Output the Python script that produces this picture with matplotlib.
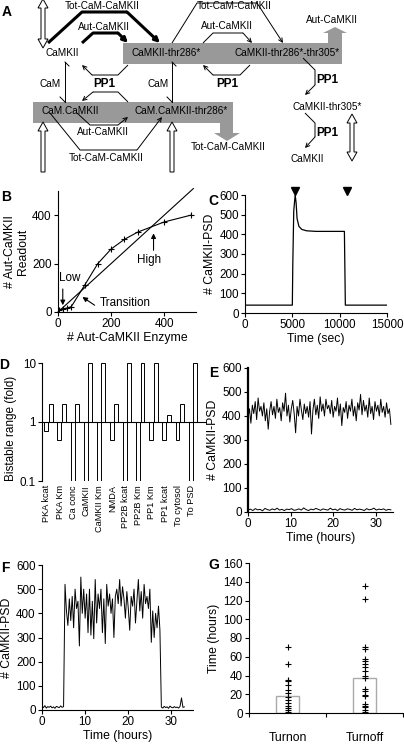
import numpy as np
import matplotlib
matplotlib.use("Agg")
import matplotlib.pyplot as plt
from matplotlib.patches import Polygon, Rectangle

plt.rcParams['font.family'] = ['Liberation Sans', 'DejaVu Sans']
plt.rcParams['font.size'] = 8
plt.rcParams['axes.linewidth'] = 0.8

W, H = 404, 745
LAB = 8.8   # axis label size
TICK = 8.4  # tick label size

# --- data ---
# B: readout vs enzyme
b_enzyme = [5, 20, 35, 50, 100, 150, 200, 250, 300, 400, 500]
b_readout = [10, 13, 17, 22, 110, 200, 260, 300, 330, 372, 400]
b_diag = [0, 510]

# C: CaMKII-PSD vs time (sec)
c_time = [0, 5000, 5050, 5150, 5300, 5400, 5500, 5700, 6000, 6500, 7500, 10500, 10600, 15000]
c_psd = [40, 40, 250, 520, 600, 560, 480, 440, 425, 418, 415, 415, 40, 40]
c_stim = [5280, 10780]

# D: bistable range
d_params = ["PKA kcat", "PKA Km", "Ca conc", "CaMKII", "CaMKII Km", "NMDA",
            "PP2B kcat", "PP2B Km", "PP1 Km", "PP1 kcat", "To cytosol", "To PSD"]
d_low = [0.7, 0.5, 0.1, 0.1, 0.1, 0.5, 0.1, 0.1, 0.5, 0.5, 0.5, 0.1]
d_high = [2, 2, 2, 10, 10, 2, 10, 10, 10, 1.3, 2, 10]

# E: two stable states over 33.5 h
e_high = [395, 430, 370, 445, 410, 460, 385, 475, 420, 440,
          400, 455, 380, 430, 345, 420, 460, 405, 440, 390,
          470, 415, 435, 380, 455, 420, 495, 400, 445, 375,
          430, 465, 410, 330, 440, 400, 470, 425, 385, 450,
          410, 440, 395, 460, 325, 425, 470, 405, 445, 390,
          480, 420, 450, 400, 470, 430, 445, 410, 465, 395,
          440, 420, 475, 400, 450, 360, 435, 415, 460, 390,
          445, 420, 470, 400, 440, 380, 455, 425, 490, 405,
          465, 420, 445, 395, 475, 410, 440, 385, 460, 420,
          445, 400, 470, 415, 440, 395, 455, 410, 430, 365]
e_low = [8, 12, 6, 14, 9, 11, 5, 15, 10, 7, 13, 9, 16, 8, 11, 6, 12, 10, 14, 7,
         9, 13, 8, 17, 10, 6, 12, 9, 15, 11, 7, 13, 10, 8, 16, 9, 12, 6, 14, 10,
         8, 13, 11, 7, 15, 9, 12, 10, 6, 14, 9, 11, 16, 8, 12, 10, 13, 7, 11, 9]
e_tmax = 33.5

# F: spontaneous turn on / turn off (33 h)
f_low0 = [15, 10, 18, 8, 14, 11, 16, 9, 13, 7, 15, 12, 10, 17, 11, 14]
f_high = [520, 410, 350, 460, 370, 470, 340, 500, 420, 450, 265, 550, 400, 500,
          380, 480, 320, 500, 310, 450, 295, 540, 360, 480, 420, 500, 320, 460,
          275, 520, 430, 480, 400, 460, 300, 470, 500, 440, 540, 430, 510, 460,
          380, 490, 420, 330, 470, 430, 500, 360, 450, 540, 410, 490, 380, 520,
          440, 470, 420, 500, 280, 410, 300, 400, 340, 430, 330]
f_low1 = [12, 8, 15, 10, 13, 7, 16, 11, 9, 14, 10, 12, 8, 15, 50, 11, 13]
f_tmax = 33.0

# G: transition times
g_cats = ["Turnon", "Turnoff"]
g_means = [18, 37]
g_turnon = [70, 52, 35, 34, 30, 25, 21, 17, 14, 11, 7, 5, 3, 1]
g_turnoff = [136, 122, 70, 68, 58, 55, 52, 49, 45, 40, 37, 26, 23, 19, 18, 10, 8, 6, 3, 1]

fig = plt.figure(figsize=(W / 100, H / 100), dpi=100)


def px_axes(left, top, right, bottom):
    return fig.add_axes([left / W, 1 - bottom / H, (right - left) / W, (bottom - top) / H])


def panel_letter(x, y, s):
    fig.text(x / W, 1 - y / H, s, fontsize=10, fontweight='bold', ha='center', va='center')


def style(ax):
    for side in ('top', 'right'):
        ax.spines[side].set_visible(False)
    ax.tick_params(direction='out', length=3, width=0.8, labelsize=TICK, pad=1.5)


# ================= A: reaction scheme =================
axA = px_axes(0, 0, 404, 170)
axA.set_xlim(0, 404)
axA.set_ylim(170, 0)
axA.axis('off')
grey = '#999999'

axA.add_patch(Rectangle((123, 43), 219, 21, color=grey, lw=0))
axA.add_patch(Rectangle((33, 102), 200, 21, color=grey, lw=0))
axA.add_patch(Polygon([(328, 43), (328, 33), (323, 33), (335, 27), (347, 33), (342, 33), (342, 43)],
                      closed=True, color=grey, lw=0))
axA.add_patch(Polygon([(220, 123), (220, 133), (214, 133), (227, 141), (240, 133), (233, 133), (233, 123)],
                      closed=True, color=grey, lw=0))


def hollow(x, ytip, ytail, w=4, hw=10, hl=9, double=False):
    if double:
        pts = [(x, ytip), (x + hw / 2, ytip + hl), (x + w / 2, ytip + hl), (x + w / 2, ytail - hl),
               (x + hw / 2, ytail - hl), (x, ytail), (x - hw / 2, ytail - hl), (x - w / 2, ytail - hl),
               (x - w / 2, ytip + hl), (x - hw / 2, ytip + hl)]
    else:
        pts = [(x - w / 2, ytail), (x - w / 2, ytip + hl), (x - hw / 2, ytip + hl), (x, ytip),
               (x + hw / 2, ytip + hl), (x + w / 2, ytip + hl), (x + w / 2, ytail)]
    axA.add_patch(Polygon(pts, closed=True, fc='white', ec='black', lw=0.7, clip_on=False))


hollow(43, -1, 48, double=True)
hollow(352, 114, 161, double=True)
hollow(43, 122, 172)
hollow(172, 122, 172)


def path_arrow(pts, lw=0.7, head='->', ms=7):
    xs = [p[0] for p in pts]
    ys = [p[1] for p in pts]
    axA.plot(xs[:-1], ys[:-1], color='black', lw=lw, solid_capstyle='butt')
    axA.annotate('', xy=pts[-1], xytext=pts[-2],
                 arrowprops=dict(arrowstyle=head, lw=lw, color='black', shrinkA=0, shrinkB=0,
                                 mutation_scale=ms))


# thick arrows
path_arrow([(48, 43), (82, 12), (127, 12), (160, 43)], lw=2.2, head='-|>', ms=7)
path_arrow([(82, 43), (93, 33), (118, 33), (128, 43)], lw=2.2, head='-|>', ms=7)
# thin arrows
path_arrow([(172, 43), (197, 3), (257, 3), (283, 43)])
path_arrow([(203, 43), (213, 33), (243, 33), (252, 43)])
path_arrow([(128, 65), (118, 75), (92, 75), (82, 65)])
path_arrow([(250, 65), (240, 75), (213, 75), (203, 65)])
path_arrow([(303, 58), (315, 70), (315, 85), (305, 95)])
path_arrow([(305, 113), (315, 123), (315, 137), (305, 148)])
path_arrow([(128, 102), (118, 92), (93, 92), (82, 101)])
path_arrow([(77, 113), (90, 125), (118, 125), (128, 117)])
path_arrow([(50, 113), (80, 150), (137, 150), (162, 117)])
# CaM binding steps
for xv in (65, 172):
    axA.plot([xv, xv], [62, 102], color='black', lw=0.7)
    axA.plot([xv, xv + 4], [62, 66], color='black', lw=0.7)
    axA.plot([xv - 5, xv], [97, 102], color='black', lw=0.7)

labels_A = [
    ("Tot-CaM-CaMKII", 102, 6), ("Aut-CaMKII", 104, 27), ("CaMKII", 62, 53),
    ("CaMKII-thr286*", 166, 53), ("CaMKII-thr286*-thr305*", 287, 53),
    ("Tot-CaM-CaMKII", 234, 6), ("Aut-CaMKII", 227, 26), ("Aut-CaMKII", 332, 20),
    ("CaM", 50, 84), ("CaM", 158, 84), ("CaMKII-thr305*", 327, 107),
    ("CaMKII", 307, 159), ("CaM.CaMKII", 70, 111), ("CaM.CaMKII-thr286*", 181, 111),
    ("Aut-CaMKII", 103, 132), ("Tot-CaM-CaMKII", 106, 158), ("Tot-CaM-CaMKII", 228, 147),
]
for s, x, y in labels_A:
    axA.text(x, y, s, fontsize=7.2, ha='center', va='center', zorder=5)
for x, y in [(104, 84), (227, 84), (327, 80), (327, 133)]:
    axA.text(x, y, "PP1", fontsize=8.5, fontweight='bold', ha='center', va='center')
panel_letter(7, 12, "A")

# ================= B =================
axB = px_axes(58, 191, 196, 312)
style(axB)
axB.plot(b_diag, b_diag, color='black', lw=0.8, clip_on=False)
axB.plot(b_enzyme, b_readout, color='black', lw=0.8, marker='+', ms=5, mew=0.8)
axB.set_xlim(0, 520)
axB.set_ylim(0, 500)
axB.set_xticks([0, 200, 400])
axB.set_yticks([0, 200, 400])
axB.set_xlabel("# Aut-CaMKII Enzyme", fontsize=LAB, labelpad=1)
axB.set_ylabel("# Aut-CaMKII\nReadout", fontsize=LAB, labelpad=2)
arr = dict(arrowstyle='-|>', color='black', lw=0.8, mutation_scale=7, shrinkA=0, shrinkB=0)
axB.annotate("", xy=(18, 28), xytext=(18, 95), arrowprops=arr)
axB.text(45, 140, "Low", fontsize=8.4, ha='center', va='center')
axB.annotate("", xy=(92, 62), xytext=(138, 28), arrowprops=arr)
axB.text(252, 38, "Transition", fontsize=8.4, ha='center', va='center')
axB.annotate("", xy=(360, 325), xytext=(360, 255), arrowprops=arr)
axB.text(345, 214, "High", fontsize=8.4, ha='center', va='center')
panel_letter(6, 197, "B")

# ================= C =================
axC = px_axes(245, 195, 387, 313)
style(axC)
axC.plot(c_time, c_psd, color='black', lw=0.9)
axC.plot(c_stim, [618, 618], 'v', color='black', ms=6, clip_on=False)
axC.set_xlim(0, 15000)
axC.set_ylim(0, 600)
axC.set_xticks([0, 5000, 10000, 15000])
axC.set_yticks(range(0, 601, 100))
axC.set_xlabel("Time (sec)", fontsize=LAB, labelpad=1)
axC.set_ylabel("# CaMKII-PSD", fontsize=LAB, labelpad=2)
panel_letter(213, 201, "C")

# ================= D =================
axD = px_axes(42, 363, 207, 481)
idx = np.arange(len(d_params))
low_h = [v - 1 for v in d_low]
high_h = [v - 1 for v in d_high]
axD.bar(idx - 0.05, low_h, bottom=1, width=0.3, fc='white', ec='black', lw=0.7)
axD.bar(idx + 0.28, high_h, bottom=1, width=0.3, fc='white', ec='black', lw=0.7)
axD.set_yscale('log')
axD.set_ylim(0.1, 10)
axD.set_xlim(-0.38, 12.2)
axD.axhline(1, color='black', lw=0.8)
for side in ('top', 'right', 'bottom'):
    axD.spines[side].set_visible(False)
axD.set_yticks([0.1, 1, 10])
axD.set_yticklabels(['0.1', '1', '10'])
axD.minorticks_off()
axD.set_xticks(idx)
axD.set_xticklabels(d_params, rotation=90, fontsize=6.6)
axD.tick_params(axis='x', length=0, pad=3)
axD.tick_params(axis='y', direction='out', length=3, labelsize=TICK, pad=1.5)
axD.set_ylabel("Bistable range (fold)", fontsize=8.5, labelpad=2)
axD.yaxis.set_label_coords(-0.15, 0.45)
panel_letter(4, 365, "D")

# ================= E =================
axE = px_axes(248, 368, 393, 512)
style(axE)
axE.plot(np.linspace(0, e_tmax, len(e_high)), e_high, color='black', lw=0.7)
axE.plot(np.linspace(0, e_tmax, len(e_low)), e_low, color='black', lw=0.7)
axE.spines['left'].set_linewidth(1.6)
axE.set_xlim(0, 34)
axE.set_ylim(0, 600)
axE.set_xticks([0, 10, 20, 30])
axE.set_yticks(range(0, 601, 100))
axE.set_xlabel("Time (hours)", fontsize=LAB, labelpad=1)
axE.set_ylabel("# CaMKII-PSD", fontsize=LAB, labelpad=2)
panel_letter(214, 373, "E")

# ================= F =================
axF = px_axes(42, 565, 193, 710)
style(axF)
f_vals = f_low0 + f_high + f_low1
axF.plot(np.linspace(0, f_tmax, len(f_vals)), f_vals, color='black', lw=0.7)
axF.set_xlim(0, 35)
axF.set_ylim(0, 600)
axF.set_xticks([0, 10, 20, 30])
axF.set_yticks(range(0, 601, 100))
axF.set_xlabel("Time (hours)", fontsize=LAB, labelpad=1)
axF.set_ylabel("# CaMKII-PSD", fontsize=LAB, labelpad=2)
panel_letter(5, 568, "F")

# ================= G =================
axG = px_axes(249, 563, 403, 713)
style(axG)
gx = np.arange(len(g_cats))
axG.bar(gx, g_means, width=0.3, fc='white', ec='#aaaaaa', lw=1.0)
axG.plot([gx[0]] * len(g_turnon), g_turnon, '+', color='black', ms=5, mew=0.8)
axG.plot([gx[1]] * len(g_turnoff), g_turnoff, '+', color='black', ms=5, mew=0.8)
axG.set_xlim(-0.5, 1.5)
axG.set_ylim(0, 160)
axG.set_yticks(range(0, 161, 20))
axG.set_xticks([-0.5, 0.5, 1.5])
axG.set_xticklabels([])
axG.set_xticks(gx, minor=True)
axG.set_xticklabels(g_cats, minor=True, fontsize=LAB)
axG.tick_params(axis='x', which='minor', length=0, pad=14)
axG.set_ylabel("Time (hours)", fontsize=LAB, labelpad=2)
panel_letter(214, 565, "G")

fig.savefig("out.png", dpi=100)
